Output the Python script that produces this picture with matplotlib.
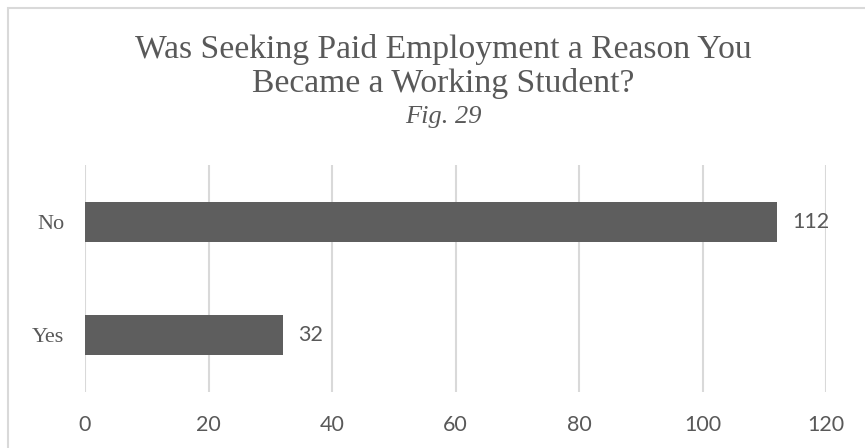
import matplotlib.pyplot as plt
from matplotlib.patches import Rectangle

# survey answers and counts
answers = ["Yes", "No"]
counts = [32, 112]
x_ticks = [0, 20, 40, 60, 80, 100, 120]

title_lines = ["Was Seeking Paid Employment a Reason You", "Became a Working Student?"]
fig_label = "Fig. 29"

text_grey = "#595959"
bar_grey = "#5e5e5e"
grid_grey = "#d9d9d9"
W, H = 865, 448

fig = plt.figure(figsize=(W / 100, H / 100), dpi=100)
fig.patch.set_facecolor("white")

# chart frame (cut off on the right and bottom)
fig.patches.append(Rectangle((8 / W, -0.2), 1.2, 1.2 - 8 / H,
                             transform=fig.transFigure, fill=False,
                             edgecolor=grid_grey, linewidth=1.5))

ax = fig.add_axes([85 / W, 56 / H, (826 - 85) / W, (392 - 165) / H])

ax.barh(range(len(answers)), counts, height=0.35, color=bar_grey)
for i, c in enumerate(counts):
    ax.annotate(str(c), (c, i), xytext=(11, 0), textcoords="offset points",
                ha="left", va="center", fontsize=15.5, family="Lato",
                color=text_grey)

ax.set_xlim(0, 120)
ax.set_ylim(-0.5, len(answers) - 0.5)
ax.set_xticks(x_ticks)
ax.set_yticks(range(len(answers)))
ax.set_yticklabels(answers, family="Liberation Serif", fontsize=16, color=text_grey)
ax.set_xticklabels([str(t) for t in x_ticks], family="Lato", fontsize=15.5,
                   color=text_grey)
ax.tick_params(axis="both", length=0)
ax.tick_params(axis="x", pad=16.5)
ax.tick_params(axis="y", pad=15)

ax.grid(axis="x", color=grid_grey, linewidth=1.5)
ax.set_axisbelow(True)
for s in ax.spines.values():
    s.set_visible(False)

# title block
cx = 443 / W
fig.text(cx, 1 - 58 / H, title_lines[0], ha="center", va="baseline",
         family="Liberation Serif", fontsize=24.2, color=text_grey)
fig.text(cx, 1 - 92 / H, title_lines[1], ha="center", va="baseline",
         family="Liberation Serif", fontsize=24.2, color=text_grey)
fig.text(cx, 1 - 123 / H, fig_label, ha="center", va="baseline",
         family="Liberation Serif", style="italic", fontsize=19, color=text_grey)

fig.savefig("out.png", dpi=100)
